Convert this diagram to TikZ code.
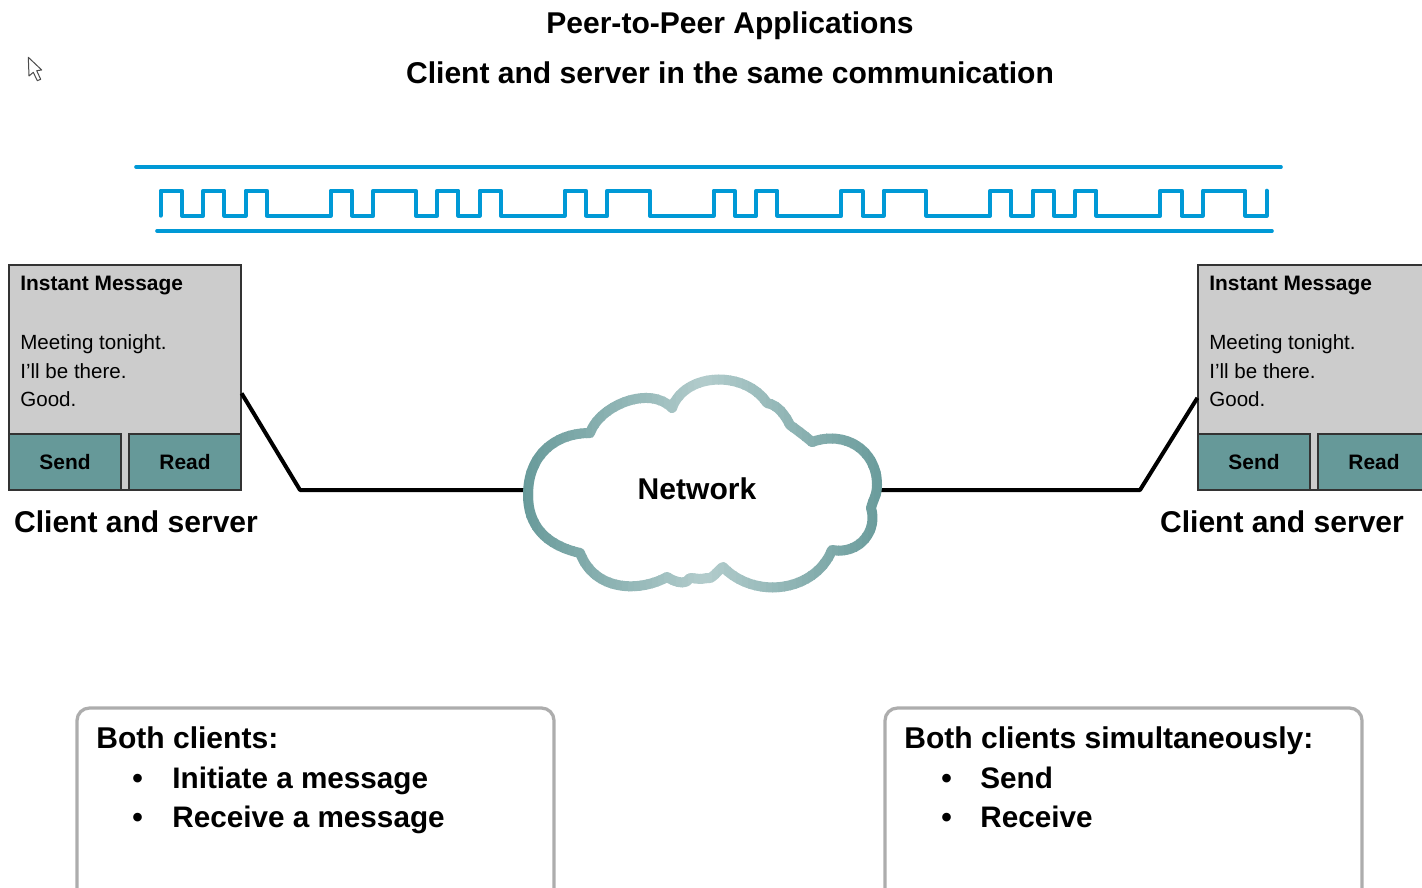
\documentclass[tikz,border=0pt]{standalone}
\usepackage{fontspec}
\setmainfont{Liberation Sans}
\usetikzlibrary{calc}

\definecolor{SignalBlue}{HTML}{0099D6}
\definecolor{CloudTeal}{HTML}{669999}
\definecolor{PanelGray}{HTML}{CCCCCC}
\tikzset{
    signal/.style={line width=0.72mm,SignalBlue,line cap=round,line join=round},
    wave/.style={signal,line width=0.8mm},
    wire/.style={line width=0.8mm,black,line join=round},
    panel/.style={draw=black!80,line width=0.25mm,fill=PanelGray,minimum width=4.64cm,minimum height=4.5cm,inner sep=0pt},
    button/.style={draw=black!80,line width=0.25mm,fill=CloudTeal,minimum width=2.24cm,minimum height=1.12cm,inner sep=0pt,font=\fontsize{11.9pt}{14pt}\selectfont\bfseries},
    msgtext/.style={anchor=base west,inner sep=0pt,font=\fontsize{11.7pt}{14pt}\selectfont},
    msghead/.style={msgtext,font=\fontsize{11.9pt}{14pt}\selectfont\bfseries},
    bigtext/.style={inner sep=0pt,font=\fontsize{17.1pt}{20pt}\selectfont\bfseries},
    notetext/.style={bigtext,anchor=base west},
    itemtext/.style={notetext,font=\fontsize{16.9pt}{20pt}\selectfont\bfseries},
    notebox/.style={draw=black!32,line width=0.65mm,rounded corners=2.5mm,fill=white}
}
\newcommand{\cloudpath}{(528, 495)
    .. controls (528, 455) and (555, 433) .. (590, 433)
    .. controls (600, 405) and (650, 385) .. (672, 408)
    .. controls (685, 372) and (745, 370) .. (767, 403)
    .. controls (778, 405) and (785, 415) .. (790, 425)
    .. controls (797, 430) and (805, 436) .. (812, 442)
    .. controls (845, 430) and (877, 450) .. (877, 485)
    .. controls (877, 495) and (873, 500) .. (871, 508)
    .. controls (878, 530) and (860, 555) .. (832, 550)
    .. controls (815, 592) and (755, 600) .. (723, 567)
    .. controls (718, 570) and (712, 580) .. (707, 578)
    .. controls (700, 580) and (695, 578) .. (690, 578)
    .. controls (687, 584) and (678, 584) .. (667, 577)
    .. controls (640, 592) and (595, 592) .. (580, 553)
    .. controls (545, 545) and (528, 525) .. cycle}

\begin{document}
\begin{tikzpicture}[x=0.02cm,y=-0.02cm]
            \clip (0, 0) rectangle (1422, 888);

            \node[bigtext,anchor=base] (title1) at (730, 34) {Peer-to-Peer Applications};
            \node[bigtext,anchor=base] (title2) at (730, 84) {Client and server in the same communication};

            %pointer
            \draw[black!70,fill=white,line width=0.2mm,line join=round] (28.3, 57.3) -- (41.7, 70) -- (36.7, 70.7) -- (40.7, 79.3) -- (37.3, 80.7) -- (33.3, 72.3) -- (29, 76) -- cycle;

            %bit stream
            \draw[signal] (136, 167) -- (1281, 167);
            \draw[signal] (157, 231) -- (1272, 231);
            \draw[wave] (160.6, 215.7) foreach \a/\b in {0/1,2/3,4/5,8/9,10/12,13/14,15/16,19/20,21/23,26/27,28/29,32/33,34/36,39/40,41/42,43/44,47/48,49/51} {
                -- (160.6+21.27*\a, 215.7) -- (160.6+21.27*\a, 190.7) -- (160.6+21.27*\b, 190.7) -- (160.6+21.27*\b, 215.7)
            } -- (1266.6, 215.7) -- (1266.6, 190.7);

            %both clients
            \foreach \n/\x in {L/0,R/1189} {
                \node[panel] (panel\n) at (125+\x, 377.5) {};
                \node[msghead] (head\n) at (20+\x, 291) {Instant Message};
                \node[msgtext] (lineA\n) at (20+\x, 349) {Meeting tonight.};
                \node[msgtext] (lineB\n) at (20+\x, 378) {I’ll be there.};
                \node[msgtext] (lineC\n) at (20+\x, 406) {Good.};
                \node[button] (send\n) at (65+\x, 462) {Send};
                \node[button] (read\n) at (185+\x, 462) {Read};
            }
            \node[bigtext] (labelL) at (136, 522) {Client and server};
            \node[bigtext] (labelR) at (1282, 522) {Client and server};

            \coordinate (elbowL) at (300, 490);
            \coordinate (elbowR) at (1140, 490);
            \coordinate (cloudW) at (530, 490);
            \coordinate (cloudE) at (876, 490);
            \draw[wire] ($(panelL.south east)!0.43!(panelL.north east)$) -- (elbowL) -- (cloudW);
            \draw[wire] ($(panelR.south west)!0.41!(panelR.north west)$) -- (elbowR) -- (cloudE);

            %cloud, outline lighter towards the middle
            \fill[white] \cloudpath;
            \foreach \s in {0,...,61} {
                \pgfmathsetmacro{\sx}{520+6*\s}
                \pgfmathsetmacro{\tint}{50+50*abs(\sx+3-705)/185}
                \begin{scope}
                    \clip (\sx, 360) rectangle (\sx+7, 610);
                    \draw[line width=2mm,CloudTeal!\tint!white,line join=round] \cloudpath;
                \end{scope}
            }
            \node[bigtext] (network) at (697, 489) {Network};

            %notes
            \draw[notebox] (77, 708) rectangle (554, 920);
            \draw[notebox] (885, 708) rectangle (1362, 920);
            \node[notetext] (noteA) at (96, 748) {Both clients:};
            \node[notetext] (bulletA1) at (132, 788) {•};
            \node[itemtext] (itemA1) at (172, 788) {Initiate a message};
            \node[notetext] (bulletA2) at (132, 827) {•};
            \node[itemtext] (itemA2) at (172, 827) {Receive a message};
            \node[notetext] (noteB) at (904, 748) {Both clients simultaneously:};
            \node[notetext] (bulletB1) at (941, 788) {•};
            \node[itemtext] (itemB1) at (980, 788) {Send};
            \node[notetext] (bulletB2) at (941, 827) {•};
            \node[itemtext] (itemB2) at (980, 827) {Receive};

\end{tikzpicture}
\end{document}
